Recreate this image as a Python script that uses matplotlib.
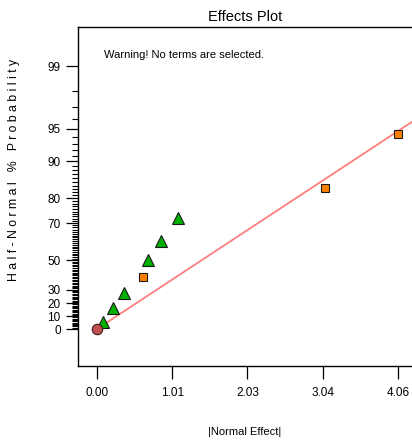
import math

import numpy as np
import matplotlib
matplotlib.use("Agg")
import matplotlib.pyplot as plt
from matplotlib.ticker import FixedLocator, FixedFormatter

# half-normal effects (absolute standardized effect vs cumulative probability, %)
effect = [0.077, 0.220, 0.360, 0.624, 0.684, 0.867, 1.093, 3.071, 4.06]
probability = [5.56, 16.67, 27.78, 38.89, 50.0, 61.11, 72.22, 83.33, 94.44]
marker_kind = ["tri", "tri", "tri", "sq", "tri", "tri", "tri", "sq", "sq"]

# origin point and the reference line through it
origin_effect = [0.0]
origin_prob = [0.0]
line_effect = [0.0, 4.25]
line_prob = [0.0, 95.76]

x_ticks = [0.0, 1.015, 2.03, 3.045, 4.06]
y_major = [0, 10, 20, 30, 50, 70, 80, 90, 95, 99]
y_minor = [v for v in range(1, 99) if v not in y_major]

FONT = ["Liberation Sans Narrow", "Liberation Sans", "DejaVu Sans"]

_erf = np.vectorize(math.erf)


def _erfinv(y):
    y = np.clip(np.asarray(y, dtype=float), -0.9999999, 0.9999999)
    # rough closed-form guess, then a few Newton steps
    a = 0.147
    ln = np.log(1.0 - y * y)
    t = 2.0 / (np.pi * a) + ln / 2.0
    x = np.sign(y) * np.sqrt(np.sqrt(t * t - ln / a) - t)
    for _ in range(4):
        x = x - (_erf(x) - y) / (2.0 / np.sqrt(np.pi) * np.exp(-x * x))
    return x


def halfnormal_forward(p):
    return np.sqrt(2.0) * _erfinv(np.asarray(p, dtype=float) / 100.0)


def halfnormal_inverse(z):
    return 100.0 * _erf(np.asarray(z, dtype=float) / np.sqrt(2.0))


fig = plt.figure(figsize=(4.12, 4.41), dpi=100)
ax = fig.add_axes([78 / 412, 1 - 366 / 441, (412 - 78) / 412, (366 - 27) / 441])

ax.set_yscale("function", functions=(halfnormal_forward, halfnormal_inverse))
ax.set_ylim(halfnormal_inverse(-0.362), halfnormal_inverse(2.958))
ax.set_xlim(-0.256, 4.249)

ax.plot(line_effect, line_prob, color="#FF7F7F", linewidth=1.3, zorder=2)

styles = {
    "tri": dict(marker="^", markersize=8.5, markerfacecolor="#00B000"),
    "sq": dict(marker="s", markersize=6.0, markerfacecolor="#FF8000"),
}
for kind, st in styles.items():
    xs = [e for e, k in zip(effect, marker_kind) if k == kind]
    ys = [p for p, k in zip(probability, marker_kind) if k == kind]
    ax.plot(xs, ys, linestyle="none", markeredgecolor="#1a1a1a",
            markeredgewidth=0.8, zorder=3, **st)

ax.plot(origin_effect, origin_prob, linestyle="none", marker="o", markersize=7.5,
        markerfacecolor="#C0504D", markeredgecolor="#3a1a1a", markeredgewidth=0.8, zorder=4)

ax.xaxis.set_major_locator(FixedLocator(x_ticks))
ax.xaxis.set_major_formatter(FixedFormatter([f"{v:.2f}" for v in x_ticks]))
ax.yaxis.set_major_locator(FixedLocator(y_major))
ax.yaxis.set_major_formatter(FixedFormatter([str(v) for v in y_major]))
ax.yaxis.set_minor_locator(FixedLocator(y_minor))
ax.yaxis.set_minor_formatter(FixedFormatter([]))

ax.tick_params(axis="x", which="major", direction="out", length=9, width=0.9, pad=6,
               labelsize=8.5)
ax.tick_params(axis="y", which="major", direction="out", length=9, width=0.9, pad=3.5,
               labelsize=8.5)
ax.tick_params(axis="y", which="minor", direction="out", length=4, width=0.8)
for lbl in ax.get_xticklabels() + ax.get_yticklabels():
    lbl.set_family(FONT)

ax.spines["right"].set_visible(False)
for side in ("left", "top", "bottom"):
    ax.spines[side].set_linewidth(1.0)

ax.set_title("Effects Plot", fontsize=10.5, family=FONT, pad=4)
ax.text(0.078, 0.917, "Warning! No terms are selected.",
        transform=ax.transAxes, fontsize=8, family=FONT, ha="left", va="center")

ax.set_xlabel("|Normal Effect|", fontsize=8, family=FONT, va="center")
ax.xaxis.set_label_coords(0.5, (366 - 432) / 339)
fig.text(14 / 412, 1 - 170 / 441, " ".join("Half-Normal % Probability"),
         rotation=90, ha="center", va="center", fontsize=8.8, family=FONT)

fig.savefig("out.png", dpi=100)
